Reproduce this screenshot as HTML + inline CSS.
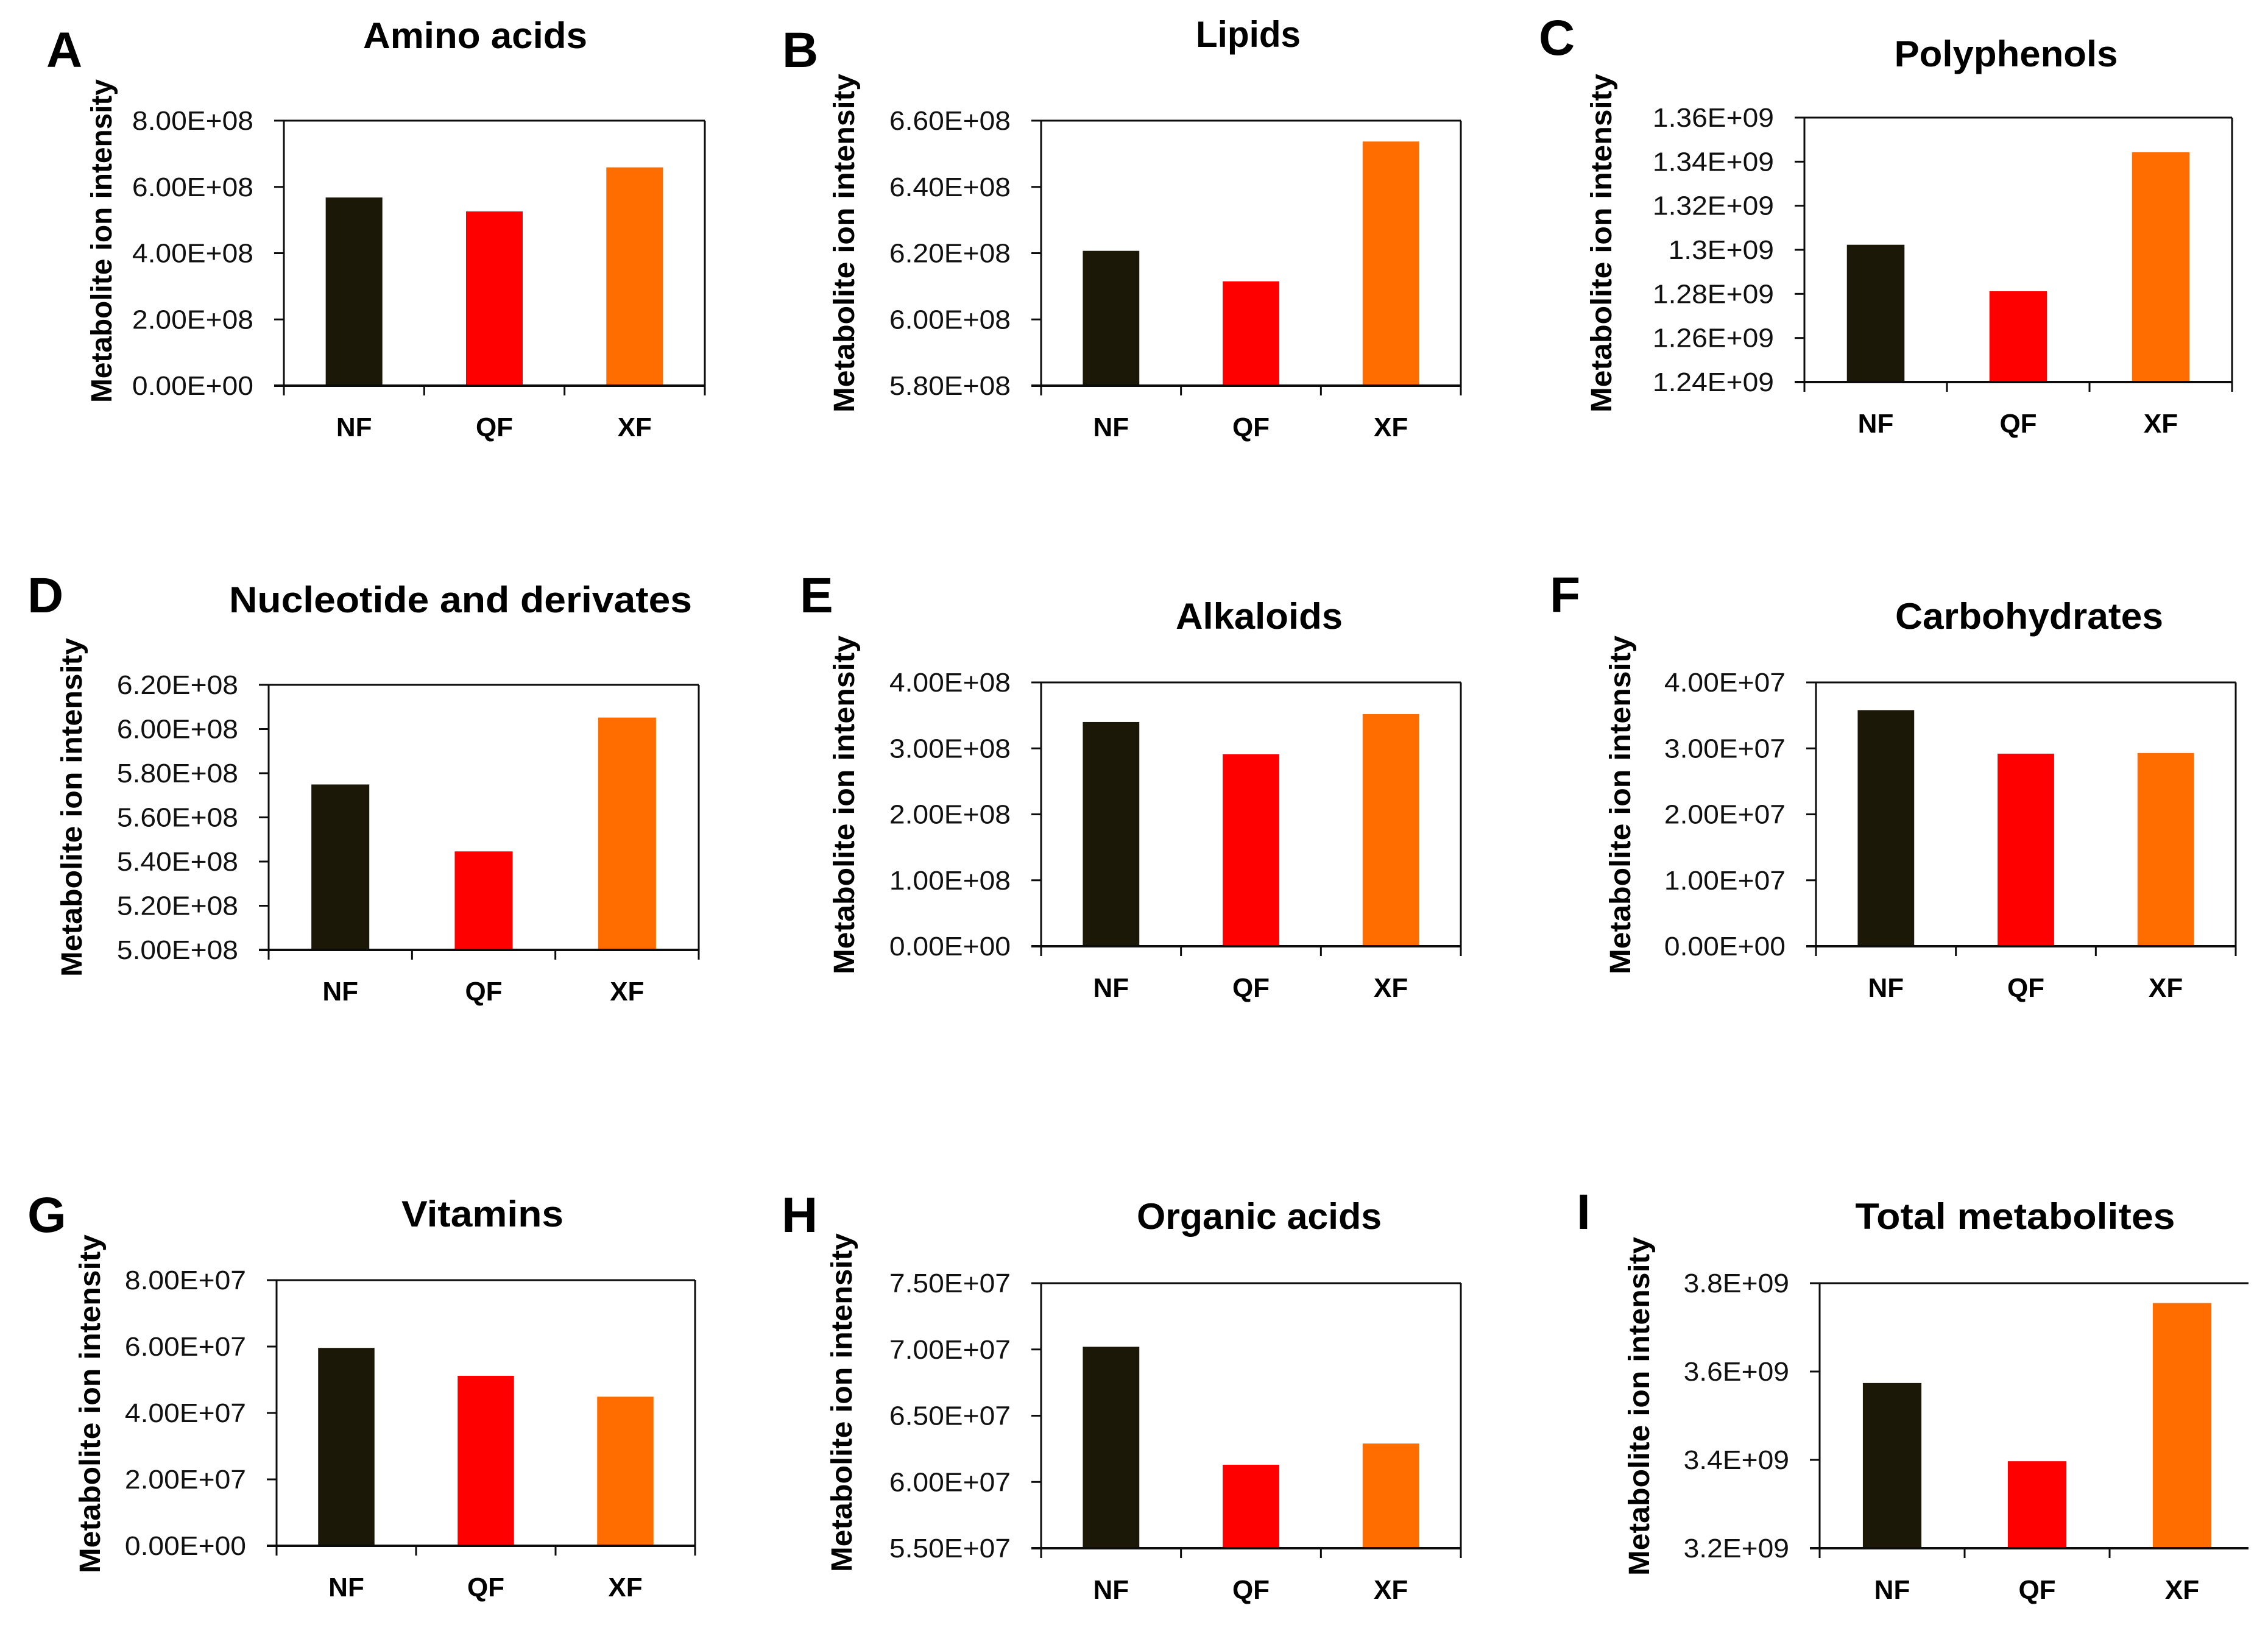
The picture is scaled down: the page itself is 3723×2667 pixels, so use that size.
<!DOCTYPE html>
<html lang="en">
<head>
<meta charset="utf-8">
<title>Metabolite ion intensity panels</title>
<style>
html,body{margin:0;padding:0;background:#fff;width:3723px;height:2667px;overflow:hidden}
svg{display:block;font-family:"Liberation Sans",sans-serif}
</style>
</head>
<body>
<svg id="figure" xmlns="http://www.w3.org/2000/svg" width="3723" height="2667" viewBox="0 0 3723 2667"></svg>
<script>
// ---- data ----
const categories = ['NF', 'QF', 'XF'];

const aminoTicks = ['8.00E+08', '6.00E+08', '4.00E+08', '2.00E+08', '0.00E+00'];
const aminoValues = [5.68e8, 5.26e8, 6.59e8];

const lipidTicks = ['6.60E+08', '6.40E+08', '6.20E+08', '6.00E+08', '5.80E+08'];
const lipidValues = [6.207e8, 6.115e8, 6.537e8];

const polyphenolTicks = ['1.36E+09', '1.34E+09', '1.32E+09', '1.3E+09', '1.28E+09', '1.26E+09', '1.24E+09'];
const polyphenolValues = [1.3023e9, 1.2812e9, 1.3443e9];

const nucleotideTicks = ['6.20E+08', '6.00E+08', '5.80E+08', '5.60E+08', '5.40E+08', '5.20E+08', '5.00E+08'];
const nucleotideValues = [5.749e8, 5.446e8, 6.052e8];

const alkaloidTicks = ['4.00E+08', '3.00E+08', '2.00E+08', '1.00E+08', '0.00E+00'];
const alkaloidValues = [3.40e8, 2.91e8, 3.52e8];

const carbohydrateTicks = ['4.00E+07', '3.00E+07', '2.00E+07', '1.00E+07', '0.00E+00'];
const carbohydrateValues = [3.58e7, 2.92e7, 2.93e7];

const vitaminTicks = ['8.00E+07', '6.00E+07', '4.00E+07', '2.00E+07', '0.00E+00'];
const vitaminValues = [5.96e7, 5.12e7, 4.49e7];

const organicTicks = ['7.50E+07', '7.00E+07', '6.50E+07', '6.00E+07', '5.50E+07'];
const organicValues = [7.02e7, 6.13e7, 6.29e7];

const totalTicks = ['3.8E+09', '3.6E+09', '3.4E+09', '3.2E+09'];
const totalValues = [3.574e9, 3.397e9, 3.755e9];

const seriesColors = ['#1c1808', '#ff0000', '#ff6d00'];

// ---- layout ----
const panels = [
  {letter:'A', title:'Amino acids', ticks:aminoTicks, values:aminoValues,
   box:[466,1157,198,633], titleAt:[780,79,368], letterAt:[76,110], ylabelAt:[183,661,531]},
  {letter:'B', title:'Lipids', ticks:lipidTicks, values:lipidValues,
   box:[1709,2398,198,633], titleAt:[2049,77,172], letterAt:[1284,110], ylabelAt:[1402,677,556]},
  {letter:'C', title:'Polyphenols', ticks:polyphenolTicks, values:polyphenolValues,
   box:[2962,3664,193,627], titleAt:[3293,109,367], letterAt:[2526,90], ylabelAt:[2645,677,556]},
  {letter:'D', title:'Nucleotide and derivates', ticks:nucleotideTicks, values:nucleotideValues,
   box:[441,1147,1124,1559], titleAt:[756,1005,760], letterAt:[45,1005], ylabelAt:[134,1603,556]},
  {letter:'E', title:'Alkaloids', ticks:alkaloidTicks, values:alkaloidValues,
   box:[1709,2398,1120,1553], titleAt:[2067,1032,274], letterAt:[1313,1005], ylabelAt:[1402,1599,556]},
  {letter:'F', title:'Carbohydrates', ticks:carbohydrateTicks, values:carbohydrateValues,
   box:[2981,3670,1120,1553], titleAt:[3331,1032,440], letterAt:[2544,1004], ylabelAt:[2676,1599,556]},
  {letter:'G', title:'Vitamins', ticks:vitaminTicks, values:vitaminValues,
   box:[454,1141,2101,2537], titleAt:[792,2013,266], letterAt:[45,2022], ylabelAt:[164,2582,556]},
  {letter:'H', title:'Organic acids', ticks:organicTicks, values:organicValues,
   box:[1709,2398,2106,2541], titleAt:[2067,2017,402], letterAt:[1283,2022], ylabelAt:[1398,2580,556]},
  {letter:'I', title:'Total metabolites', ticks:totalTicks, values:totalValues,
   box:[2987,3701,2106,2541], lineEnd:3691, noRightAxis:true, titleAt:[3308,2017,525], letterAt:[2588,2017], ylabelAt:[2707,2586,556]}
];

const NS = 'http://www.w3.org/2000/svg';
const BAR_RATIO = 0.404;
const TICK_LEN = 16;
const INK = '#0c0c0c';
const figure = document.getElementById('figure');

function make(parent, tag, attrs, text) {
  const node = document.createElementNS(NS, tag);
  for (const key in attrs) node.setAttribute(key, attrs[key]);
  if (text !== undefined) node.textContent = text;
  parent.appendChild(node);
  return node;
}

function line(parent, x1, y1, x2, y2, width) {
  return make(parent, 'line', {x1: x1, y1: y1, x2: x2, y2: y2, stroke: INK, 'stroke-width': width});
}

function drawPanel(p) {
  const [left, right, top, bottom] = p.box;
  const end = p.lineEnd || right;
  const tickNums = p.ticks.map(Number);
  const yMin = Math.min.apply(null, tickNums);
  const yMax = Math.max.apply(null, tickNums);
  const yScale = v => bottom - (v - yMin) / (yMax - yMin) * (bottom - top);
  const band = (right - left) / categories.length;
  const xScale = i => left + band * i;

  const g = make(figure, 'g', {});
  
  

  const letter = make(g, 'text', {x: p.letterAt[0], y: p.letterAt[1], 'font-size': 82, 'font-weight': 700, fill: '#000'}, p.letter);
  
  

  const title = make(g, 'text', {x: p.titleAt[0], y: p.titleAt[1], 'font-size': 60, 'font-weight': 700, 'text-anchor': 'middle', fill: '#000', textLength: p.titleAt[2], lengthAdjust: 'spacingAndGlyphs'}, p.title);
  
  

  const ylabel = make(g, 'text', {transform: 'translate(' + p.ylabelAt[0] + ',' + p.ylabelAt[1] + ') rotate(-90)', 'font-size': 48, 'font-weight': 700, fill: '#000', textLength: p.ylabelAt[2], lengthAdjust: 'spacingAndGlyphs'}, 'Metabolite ion intensity');
  
  

  p.values.forEach(function (v, i) {
    const barW = band * BAR_RATIO;
    const barX = xScale(i) + (band - barW) / 2;
    const bar = make(g, 'rect', {x: barX, y: yScale(v), width: barW, height: bottom - yScale(v), fill: seriesColors[i]});
    
    
  });

  const plotTop = line(g, left - TICK_LEN, top, end, top, 3);
  
  

  const yAxis = line(g, left, top, left, bottom, 3);
  
  

  if (!p.noRightAxis) {
    const rightBorder = line(g, right, top, right, bottom + TICK_LEN, 3);
    
    
  }

  const xAxis = line(g, left - TICK_LEN, bottom, end, bottom, 4);
  
  

  p.ticks.forEach(function (label, i) {
    const y = yScale(tickNums[i]);
    const tick = line(g, left - TICK_LEN, y, left, y, 3);
    
    
    const tickLabel = make(g, 'text', {x: left - 50, y: y + 15, 'font-size': 44, 'text-anchor': 'end', fill: '#111'}, label);
    
    
    tickLabel.setAttribute('textLength', tickLabel.getComputedTextLength() * 1.05);
    tickLabel.setAttribute('lengthAdjust', 'spacingAndGlyphs');
  });

  categories.forEach(function (cat, i) {
    const tick = line(g, xScale(i), bottom, xScale(i), bottom + TICK_LEN, 3);
    
    
    const catLabel = make(g, 'text', {x: xScale(i) + band / 2, y: bottom + 83, 'font-size': 44, 'font-weight': 700, 'text-anchor': 'middle', fill: '#000'}, cat);
    
    
  });
}

panels.forEach(drawPanel);
</script>
</body>
</html>
